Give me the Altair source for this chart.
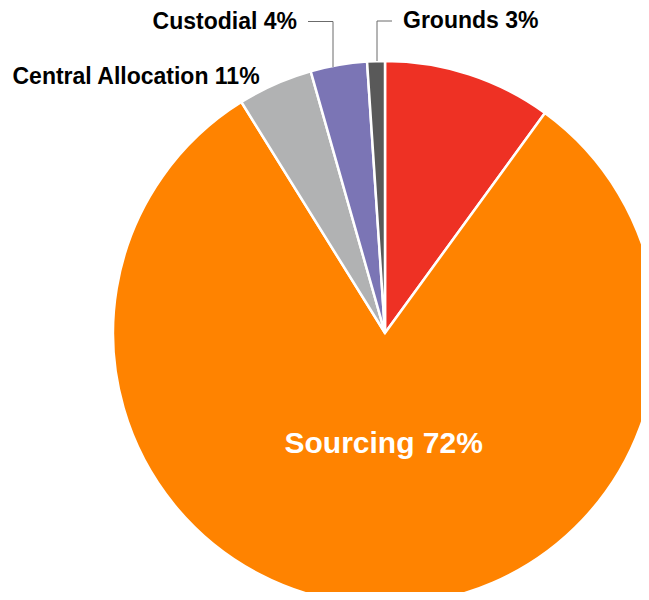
import altair as alt
import pandas as pd

categories = ["Other", "Sourcing", "Central Allocation", "Custodial", "Grounds"]
shares = [10.0, 81.1, 4.45, 3.35, 1.05]
labels = ["", "Sourcing 72%", "Central Allocation 11%", "Custodial 4%", "Grounds 3%"]
colors = ["#EE3124", "#FF8300", "#B1B2B3", "#7B75B5", "#595959"]

df = pd.DataFrame({
    "category": categories,
    "share": shares,
    "label": labels,
    "order": list(range(len(categories))),
})

CX, CY, R = 377, 325, 272
FONT = "Liberation Sans"

base = alt.Chart(df).encode(
    theta=alt.Theta("share:Q", stack=True),
    order=alt.Order("order:Q"),
)

pie = base.mark_arc(radius=R, stroke="white", strokeWidth=2.5).encode(
    x=alt.value(CX),
    y=alt.value(CY),
    color=alt.Color("category:N", scale=alt.Scale(domain=categories, range=colors), legend=None),
)

inner = base.mark_text(
    radius=120, font=FONT, fontSize=30, fontWeight="bold", color="white",
    align="center", baseline="alphabetic", dx=3,
).encode(
    x=alt.value(CX), y=alt.value(CY),
    text=alt.condition(alt.datum.category == "Sourcing", "label:N", alt.value("")),
)

def ann(text, x, y, align):
    return alt.Chart(pd.DataFrame({"t": [text]})).mark_text(
        font=FONT, fontSize=23, fontWeight="bold", color="black",
        align=align, baseline="alphabetic",
    ).encode(x=alt.value(x), y=alt.value(y), text="t:N")

def seg(x1, y1, x2, y2):
    return alt.Chart(pd.DataFrame({"a": [0]})).mark_rule(color="#6b6b6b", strokeWidth=1).encode(
        x=alt.value(x1), y=alt.value(y1), x2=alt.value(x2), y2=alt.value(y2)
    )

lab_ca = ann(labels[2], 4.5, 76, "left")
lab_cu = ann(labels[3], 289, 21, "right")
lab_gr = ann(labels[4], 395, 20, "left")

lines = [
    seg(300, 13.5, 325, 13.5), seg(325, 13.5, 325, 59),
    seg(369, 13, 384, 13), seg(369, 13, 369, 53),
]

chart = alt.layer(pie, inner, lab_ca, lab_cu, lab_gr, *lines).properties(
    width=633, height=584, padding=0, autosize=alt.AutoSizeParams(type="none")
).configure_view(stroke=None)

chart.save("out.html", embed_options={"renderer": "svg", "actions": False})
